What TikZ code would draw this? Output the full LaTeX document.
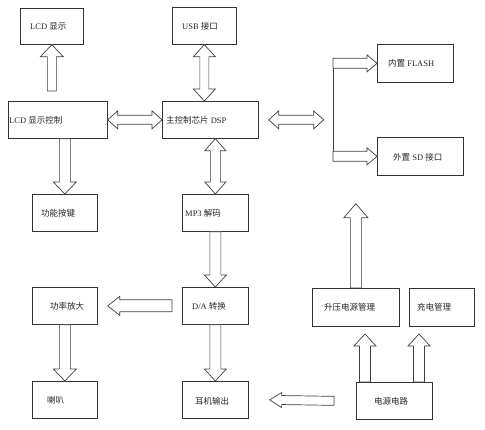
\documentclass[tikz,border=0pt]{standalone}
\usepackage{fontspec}
\setmainfont{Liberation Serif}
\newfontfamily\cjk{Noto Sans CJK SC}
\usetikzlibrary{calc}
\tikzset{
  box/.style={draw=black!80, line width=0.7pt, rectangle, anchor=north west, inner sep=0pt},
  lbl/.style={anchor=west, inner sep=0pt, font=\fontsize{8.5}{10}\selectfont, text=black!85},
  arrline/.style={draw=black!75, line width=0.7pt, fill=white, line join=miter},
}
% single block arrow: start, end, shaft half width, head half width, head length
\newcommand{\sblk}[5]{%
  \draw[arrline] let \p1=(#1), \p2=(#2),
    \n1={atan2(\y2-\y1,\x2-\x1)}, \n2={veclen(\x2-\x1,\y2-\y1)} in
    [shift={(\p1)}, rotate=\n1]
    (0pt,{-#3pt}) -- ({\n2-#5pt},{-#3pt}) -- ({\n2-#5pt},{-#4pt}) -- (\n2,0pt)
    -- ({\n2-#5pt},{#4pt}) -- ({\n2-#5pt},{#3pt}) -- (0pt,{#3pt}) -- cycle;}
% double block arrow
\newcommand{\dblk}[5]{%
  \draw[arrline] let \p1=(#1), \p2=(#2),
    \n1={atan2(\y2-\y1,\x2-\x1)}, \n2={veclen(\x2-\x1,\y2-\y1)} in
    [shift={(\p1)}, rotate=\n1]
    (0pt,0pt) -- (#5pt,{-#4pt}) -- (#5pt,{-#3pt}) -- ({\n2-#5pt},{-#3pt}) -- ({\n2-#5pt},{-#4pt})
    -- (\n2,0pt) -- ({\n2-#5pt},{#4pt}) -- ({\n2-#5pt},{#3pt}) -- (#5pt,{#3pt}) -- (#5pt,{#4pt}) -- cycle;}
\begin{document}
\begin{tikzpicture}[x=1pt,y=-1pt]
\fill[white] (0,0) rectangle (485,430);
\useasboundingbox (0,0) rectangle (485,430);

% boxes
\node[box, minimum width=63pt, minimum height=36pt] (lcd) at (20,8) {};
\node[box, minimum width=64pt, minimum height=37pt] (usb) at (172,7) {};
\node[box, minimum width=99pt, minimum height=37pt] (lcdc) at (8,101) {};
\node[box, minimum width=96pt, minimum height=37pt] (dsp) at (162,101) {};
\node[box, minimum width=76pt, minimum height=38pt] (flash) at (377,44) {};
\node[box, minimum width=86pt, minimum height=38pt] (sd) at (377,137) {};
\node[box, minimum width=65pt, minimum height=37pt] (func) at (32,194) {};
\node[box, minimum width=66pt, minimum height=37pt] (mp3) at (182,194) {};
\node[box, minimum width=65pt, minimum height=37pt] (amp) at (32,287) {};
\node[box, minimum width=66pt, minimum height=37pt] (da) at (182,287) {};
\node[box, minimum width=65pt, minimum height=37pt] (spk) at (32,381) {};
\node[box, minimum width=66pt, minimum height=37pt] (ear) at (182,381) {};
\node[box, minimum width=87pt, minimum height=38pt] (boost) at (312,288) {};
\node[box, minimum width=65pt, minimum height=38pt] (charge) at (409,288) {};
\node[box, minimum width=76pt, minimum height=37pt] (power) at (356,382) {};

% labels
\node[lbl] (tlcd) at (30,26) {LCD {\cjk 显示}};
\node[lbl] (tusb) at (182,26) {USB {\cjk 接口}};
\node[lbl] (tlcdc) at (9,120) {LCD {\cjk 显示控制}};
\node[lbl] (tdsp) at (166,120) {{\cjk 主控制芯片} DSP};
\node[lbl] (tflash) at (388,63) {{\cjk 内置} FLASH};
\node[lbl] (tsd) at (393,157) {{\cjk 外置} SD {\cjk 接口}};
\node[lbl] (tfunc) at (41,213) {\cjk 功能按键};
\node[lbl] (tmp3) at (185,213) {MP3 {\cjk 解码}};
\node[lbl] (tamp) at (50,306) {\cjk 功率放大};
\node[lbl] (tda) at (192,306) {D/A {\cjk 转换}};
\node[lbl] (tspk) at (47,400) {\cjk 喇叭};
\node[lbl] (tear) at (195,401) {\cjk 耳机输出};
\node[lbl] (tboost) at (324,307) {\cjk 升压电源管理};
\node[lbl] (tcharge) at (417,307) {\cjk 充电管理};
\node[lbl] (tpower) at (374,401) {\cjk 电源电路};

% connectors
\sblk{$(lcdc.north -| lcd.south)+(0,-10)$}{lcd.south}{4.5}{11.5}{12}
\dblk{usb.south}{dsp.north -| usb.south}{4.5}{11}{12}
\dblk{lcdc.east}{dsp.west}{4.5}{9}{10}
\coordinate (busl) at ($(dsp.east)+(10,0)$);
\coordinate (busr) at ($(dsp.east)+(65,0)$);
\dblk{busl}{busr}{4.5}{9}{10}
\coordinate (bustop) at ($(flash.west)+(-44,-5)$);
\coordinate (busbot) at ($(sd.west)+(-44,5)$);
\draw[arrline] (bustop) -- (busbot);
\sblk{flash.west -| bustop}{flash.west}{5}{8.5}{10}
\sblk{sd.west -| busbot}{sd.west}{5}{8.5}{10}
\dblk{dsp.south -| mp3.north}{mp3.north}{5}{10.5}{12}
\sblk{mp3.south}{da.north}{5.5}{11}{12}
\sblk{lcdc.south -| func.north}{func.north}{5.5}{11.5}{12}
\sblk{$(da.west)+(-10,0)$}{$(amp.east)+(10,0)$}{6}{9.5}{12}
\sblk{amp.south}{spk.north}{5.5}{11.5}{12}
\sblk{da.south}{ear.north}{5.5}{11}{12}
\sblk{boost.north}{$(sd.south -| boost.north)+(0,28)$}{5.5}{12}{14}
\sblk{$(power.north west)+(9,0)$}{$(power.north west)+(9,-48)$}{5.5}{11}{12}
\sblk{$(power.north west)+(63,0)$}{$(power.north west)+(63,-48)$}{5.5}{11}{12}
\sblk{$(power.west)+(-22,0)$}{$(ear.east)+(21,0)$}{4.5}{7.5}{12}
\end{tikzpicture}
\end{document}
